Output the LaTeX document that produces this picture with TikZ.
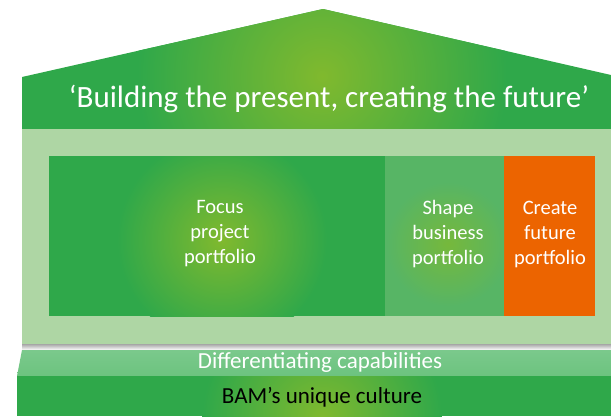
\documentclass[tikz,border=0pt]{standalone}
\usepackage{fontspec}
\setmainfont{Carlito}
\usetikzlibrary{positioning}
\definecolor{bamgreen}{HTML}{2FA84A}
\definecolor{bamlime}{HTML}{80B92E}
\definecolor{bampale}{HTML}{AED6A4}
\definecolor{bammid}{HTML}{57B565}
\definecolor{bamband}{HTML}{6CC37F}
\definecolor{bamorange}{HTML}{EC6400}

\begin{document}
\begin{tikzpicture}[x=1pt,y=-1pt]
\tikzstyle{every node}+=[inner sep=0pt]
\tikzstyle{block}=[anchor=north west, minimum height=160pt]
\tikzstyle{label}=[text=white, align=center, font=\fontsize{20.5}{25}\selectfont]
\useasboundingbox (0,0) rectangle (611,416);
% roof with the motto
\begin{scope}
\clip (22,129) -- (22,77) -- (323,9) -- (611,75) -- (611,129) -- cycle;
\fill [bamgreen] (0,0) rectangle (611,129);
\shade [inner color=bamlime, outer color=bamgreen] (322,76) circle (185);
\end{scope}
\node [text=white, font=\fontsize{31}{34}\selectfont] (motto) at (329,99) {‘Building the present, creating the future’};
% pale panel and its shadow
\fill [bampale] (22,129) rectangle (611,344);
\shade [top color=black!35, bottom color=white] (22,344) rectangle (611,350);
% the three portfolios
\node [block, minimum width=336pt, fill=bamgreen] (focus) at (49,156) {};
\node [block, minimum width=119pt, fill=bammid] (shape) at (385,156) {};
\node [block, minimum width=91pt, fill=bamorange] (create) at (504,156) {};
\begin{scope}
\clip (49,156) rectangle (385,316);
\shade [inner color=bamlime, outer color=bamgreen] (222,240) circle (105);
\end{scope}
\begin{scope}
\clip (385,156) rectangle (504,316);
\shade [inner color=bamlime!75!bammid, outer color=bammid] (448,244) circle (62);
\end{scope}
\node [label] (focustext) at (220,234) {Focus\\project\\portfolio};
\node [label] (shapetext) at (448,234) {Shape\\business\\portfolio};
\node [label] (createtext) at (550,234) {Create\\future\\portfolio};
% capabilities band
\shade [top color=bamband!90!white, bottom color=bamband] (22,350) -- (611,350) -- (611,376) -- (17,376) -- cycle;
\node [text=white, font=\fontsize{23}{26}\selectfont] (capab) at (320,362) {Differentiating capabilities};
% culture base
\begin{scope}
\clip (17,376) rectangle (611,416);
\fill [bamgreen] (17,376) rectangle (611,416);
\shade [inner color=bamlime, outer color=bamgreen] (322,418) circle (120);
\end{scope}
\node [text=black, font=\fontsize{23}{26}\selectfont] (culture) at (322,397) {BAM’s unique culture};
\end{tikzpicture}
\end{document}
